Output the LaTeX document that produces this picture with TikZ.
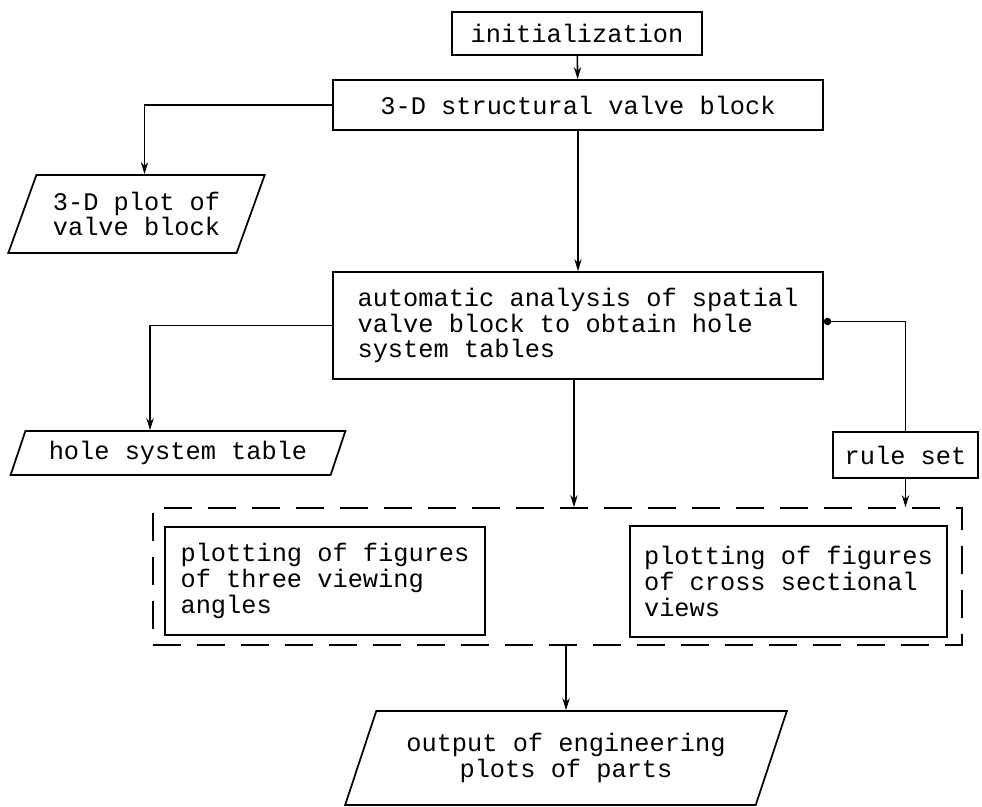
\documentclass[tikz,border=0pt]{standalone}
\usepackage{fontspec}
\setmainfont{Liberation Mono}[WordSpace={1,0,0}]
\usetikzlibrary{shapes.geometric,arrows.meta}
\tikzset{%
	block/.style    = {draw, line width=1.3pt, rectangle, inner sep=0pt,
		font=\fontsize{19}{19.2}\selectfont},
	textbox/.style  = {block, align=left},
	io/.style       = {draw, line width=1.3pt, trapezium, trapezium stretches=true,
		trapezium left angle=62, trapezium right angle=118, inner sep=0pt,
		align=center, font=\fontsize{19}{19.2}\selectfont}, % Data
	group/.style    = {draw, line width=1.3pt, dash pattern=on 21pt off 12pt,
		rectangle, inner sep=0pt}, % Dashed group
	link/.style     = {line width=1.2pt, -{Stealth[length=9pt,width=5.5pt]}},
	dot/.style      = {line width=1.2pt, -{Circle[length=5.5pt]}}
}

\begin{document}
\begin{tikzpicture}[x=0.75pt,y=-0.75pt]
			\useasboundingbox (0,0) rectangle (982,807);
			\node[block]   (init)      at (577,33.5)  [minimum width=187.5pt, minimum height=32.25pt] {initialization};
			\node[block]   (struct)    at (578,105)   [minimum width=367.5pt, minimum height=37.5pt]  {3-D structural valve block};
			\node[io]      (plot3d)    at (136.5,214) [minimum width=192.75pt, minimum height=58.5pt] {3-D plot of\\valve block};
			\node[textbox] (analysis)  at (578,325.5) [minimum width=367.5pt, minimum height=80.25pt]
				{automatic analysis of spatial\\valve block to obtain hole\\system tables};
			\node[io]      (holetab)   at (178,453)   [minimum width=251.25pt, minimum height=33pt]   {hole system table};
			\node[textbox] (ruleset)   at (905.5,455) [minimum width=108.75pt, minimum height=34.5pt] {rule set};
			\node[group]   (plotgroup) at (557.5,576.5) [minimum width=606.75pt, minimum height=102.75pt] {};
			\node[textbox] (viewA)     at (325,581)   [minimum width=240pt, minimum height=81pt]
				{plotting of figures\\of three viewing\\angles};
			\node[textbox] (viewB)     at (788.5,581.5) [minimum width=237.75pt, minimum height=83.25pt]
				{plotting of figures\\of cross sectional\\views};
			\node[io]      (output)    at (566,758)   [minimum width=331.5pt, minimum height=70.5pt]  {output of engineering\\plots of parts};

			\draw[link] (init)      -- (struct);
			\draw[link] (struct.west) -| ([xshift=6pt]plot3d.north);
			\draw[link] (struct)    -- (analysis);
			\draw[link] (analysis.west) -| ([xshift=-21pt]holetab.north);
			\draw[link] ([xshift=-3pt]analysis.south) -- ([xshift=-3pt]analysis.south |- plotgroup.north);
			\draw[dot]  (ruleset.north) |- ([yshift=3pt]analysis.east);
			\draw[link] (ruleset.south) -- (ruleset.south |- plotgroup.north);
			\draw[link] (plotgroup.south -| output.north) -- (output.north);
\end{tikzpicture}
\end{document}
